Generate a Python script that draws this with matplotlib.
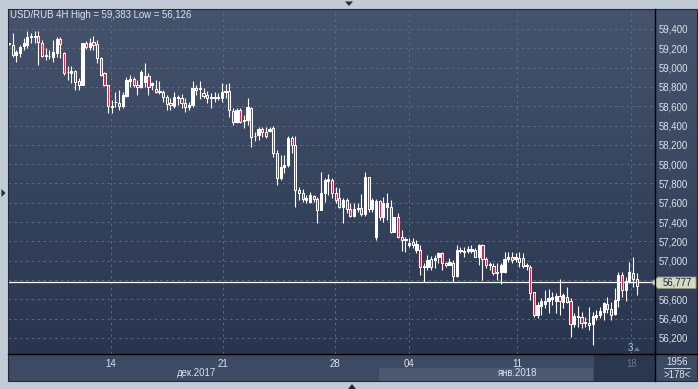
import matplotlib
matplotlib.use('Agg')
import matplotlib.pyplot as plt
import numpy as np
from matplotlib.patches import Rectangle, Polygon
from matplotlib.colors import LinearSegmentedColormap
from matplotlib.lines import Line2D

# ---------------- data (USD/RUB 4H candles) ----------------
opens = [
    59240, 59234, 59131, 59148, 59224, 59234, 59318, 59318, 59330, 59260,
    59121, 59118, 59110, 59150, 59293, 59150, 58950, 58944, 58960, 58862,
    58820, 59252, 59210, 59268, 59241, 59097, 58941, 58820, 58597, 58640,
    58637, 58603, 58706, 58862, 58879, 58820, 58803, 58855, 58913, 58820,
    58778, 58744, 58751, 58699, 58630, 58606, 58682, 58682, 58637, 58596,
    58613, 58786, 58775, 58734, 58713, 58682, 58689, 58690, 58682, 58744,
    58758, 58554, 58440, 58561, 58447, 58458, 58585, 58290, 58300, 58361,
    58330, 58344, 58372, 58113, 57860, 57974,
    57992, 58268, 58199, 57733, 57698, 57629, 57612, 57671, 57640, 57526,
    57698, 57826, 57836, 57705, 57647, 57560, 57629, 57533, 57464, 57536,
    57543, 57481, 57870, 57533, 57249, 57619, 57457, 57560, 57553, 57301,
    57450, 57249, 57215, 57163, 57190,
    57111, 57111, 56938, 56938, 57015, 57008, 57035, 57077, 56980, 56956,
    56980, 56842, 57100, 57094, 57101, 57104, 57111, 57042, 57163, 57015,
    56956, 56945, 56870, 56880, 56887, 57015, 57042, 57015, 57025, 57025,
    56945, 56938, 56680, 56438,
    56531, 56552, 56586, 56600, 56586, 56635, 56576, 56628, 56586, 56342,
    56414, 56420, 56352, 56358, 56342, 56420, 56438, 56472, 56552, 56497,
    56449, 56594, 56852, 56697, 56783, 56870, 56808,
]
highs = [
    59260, 59360, 59183, 59234, 59304, 59375, 59360, 59383, 59375, 59286,
    59200, 59183, 59286, 59322, 59317, 59162, 59013, 59013, 58975, 58892,
    59255, 59275, 59304, 59327, 59286, 59110, 58955, 58820, 58665, 58751,
    58768, 58751, 58906, 58924, 58906, 58872, 58975, 59045, 58944, 58855,
    58872, 58862, 58768, 58716, 58682, 58744, 58716, 58723, 58682, 58647,
    58862, 58820, 58862, 58786, 58758, 58734, 58751, 58734, 58838, 58830,
    58838, 58578, 58578, 58578, 58509, 58682, 58596, 58330, 58389, 58389,
    58389, 58385, 58399, 58147, 58095, 58095,
    58292, 58292, 58292, 57767, 57743, 57681, 57715, 57681, 57663, 57922,
    57854, 57898, 57854, 57767, 57750, 57647, 57647, 57595, 57595, 57595,
    57691, 57922, 57870, 57647, 57636, 57629, 57663, 57698, 57629, 57457,
    57498, 57318, 57243, 57232, 57232,
    57215, 57163, 56973, 57060, 57049, 57060, 57094, 57094, 56990, 57025,
    57008, 57163, 57146, 57146, 57153, 57163, 57129, 57173, 57173, 57042,
    56990, 56973, 56973, 56973, 57087, 57087, 57094, 57077, 57094, 57077,
    56973, 56956, 56680, 56576,
    56611, 56697, 56704, 56680, 56663, 56808, 56663, 56731, 56611, 56456,
    56531, 56472, 56414, 56518, 56472, 56490, 56524, 56576, 56628, 56576,
    56715, 56887, 56887, 56835, 56990, 57042, 56870,
]
lows = [
    59230, 59107, 59062, 59114, 59183, 59200, 59255, 59255, 59027, 59114,
    59079, 59086, 59062, 59114, 59100, 58924, 58872, 58838, 58768, 58768,
    58815, 59190, 59183, 59183, 59045, 58913, 58810, 58527, 58534, 58596,
    58561, 58578, 58699, 58803, 58803, 58716, 58789, 58803, 58716, 58768,
    58734, 58723, 58647, 58561, 58561, 58578, 58613, 58578, 58537, 58561,
    58596, 58716, 58675, 58682, 58630, 58578, 58647, 58665, 58647, 58682,
    58492, 58406, 58423, 58423, 58372, 58406, 58181, 58240, 58250, 58285,
    58268, 58333, 58078, 57784, 57836, 57906,
    57971, 58113, 57560, 57629, 57612, 57601, 57595, 57612, 57388, 57526,
    57612, 57681, 57647, 57595, 57543, 57388, 57491, 57450, 57450, 57508,
    57464, 57464, 57508, 57508, 57215, 57422, 57405, 57422, 57284, 57294,
    57232, 57104, 57094, 57146, 57129,
    57077, 56852, 56783, 56904, 56904, 56922, 56973, 56904, 56938, 56956,
    56783, 56835, 57077, 57042, 57077, 57084, 57035, 56956, 56801, 56922,
    56904, 56852, 56801, 56759, 56870, 56990, 56973, 56990, 56938, 56922,
    56904, 56594, 56420, 56404,
    56438, 56508, 56456, 56542, 56456, 56438, 56508, 56559, 56213, 56317,
    56317, 56300, 56317, 56283, 56126, 56386, 56404, 56386, 56456, 56386,
    56438, 56518, 56628, 56586, 56766, 56731, 56645,
]
closes = [
    59250, 59131, 59160, 59210, 59255, 59314, 59322, 59330, 59270, 59121,
    59125, 59114, 59160, 59293, 59245, 58944, 58954, 58960, 58856, 58820,
    59252, 59210, 59252, 59234, 59097, 58924, 58820, 58603, 58603, 58637,
    58603, 58716, 58872, 58879, 58820, 58803, 58958, 58913, 58803, 58838,
    58744, 58755, 58699, 58620, 58610, 58693, 58696, 58630, 58596, 58613,
    58786, 58768, 58786, 58710, 58682, 58693, 58699, 58693, 58744, 58758,
    58561, 58440, 58561, 58440, 58458, 58596, 58285, 58295, 58361, 58330,
    58295, 58364, 58113, 57860, 57974, 57992,
    58268, 58199, 57733, 57698, 57640, 57653, 57681, 57640, 57526, 57698,
    57833, 57843, 57705, 57629, 57560, 57629, 57533, 57464, 57533, 57547,
    57481, 57870, 57533, 57629, 57619, 57457, 57595, 57595, 57301, 57450,
    57249, 57215, 57225, 57180, 57160,
    57173, 56938, 56945, 57008, 56938, 57025, 57077, 56973, 56956, 56985,
    56842, 57111, 57111, 57101, 57118, 57122, 57042, 57163, 57015, 56956,
    56966, 56870, 56887, 56956, 57015, 57042, 57008, 57042, 56990, 56945,
    56956, 56669, 56438, 56542,
    56586, 56586, 56611, 56620, 56635, 56586, 56645, 56576, 56342, 56428,
    56428, 56358, 56369, 56335, 56428, 56438, 56480, 56559, 56497, 56438,
    56594, 56852, 56697, 56793, 56887, 56808, 56739,
]
current_price = 56777
price_ticks = list(range(56200, 59401, 200))
date_tick_pos = [27.7, 58.2, 88.8, 108.9, 138.5, 169.5]
date_tick_labels = ['14', '21', '28', '04', '11', '18']
month_labels = ['дек.2017', 'янв.2018']
month_pos = [51.0, 138.5]
title = 'USD/RUB 4H High = 59,383 Low = 56,126'

# ---------------- figure ----------------
W, H = 698, 389
fig = plt.figure(figsize=(W / 100, H / 100), dpi=100)
fig.patch.set_facecolor('#c2cbd8')
plt.rcParams['font.family'] = ['Liberation Sans', 'DejaVu Sans']
FS = 6.9

def fx(px):
    return px / W

def fy(py):
    return 1 - py / H

def frect(x0, y0, x1, y1, **kw):
    r = Rectangle((fx(x0), fy(y1)), (x1 - x0) / W, (y1 - y0) / H,
                  transform=fig.transFigure, **kw)
    fig.add_artist(r)
    return r

def fline(x0, y0, x1, y1, **kw):
    fig.add_artist(Line2D([fx(x0), fx(x1)], [fy(y0), fy(y1)],
                          transform=fig.transFigure, **kw))

PL, PT, PR, PB = 8, 9, 655, 354
txt_col = '#dce3ee'
dim_col = '#66758d'

# right price panel gradient
axr = fig.add_axes([fx(PR), fy(PB), (697 - PR) / W, (PB - PT) / H])
axr.axis('off')
cm_r = LinearSegmentedColormap.from_list('r', ['#46546d', '#2e3a54'])
axr.imshow(np.linspace(0, 1, 256).reshape(-1, 1), aspect='auto', cmap=cm_r,
           extent=[0, 1, 0, 1], origin='upper')
axr.set_xlim(0, 1); axr.set_ylim(0, 1)

# main axes
ax = fig.add_axes([fx(PL), fy(PB), (PR - PL) / W, (PB - PT) / H])
cm = LinearSegmentedColormap.from_list('bg', ['#45536d', '#29354f'])
ax.imshow(np.linspace(0, 1, 256).reshape(-1, 1), aspect='auto', cmap=cm,
          extent=[0, 1, 0, 1], origin='upper', transform=ax.transAxes, zorder=0)

n = len(opens)
x = np.arange(n)
ax.set_xlim(-0.27, 176.0)
ax.set_ylim(56034, 59607)

ax.axhline(current_price, color='white', lw=0.9, zorder=2)

o = np.array(opens); h = np.array(highs); l = np.array(lows); c = np.array(closes)
ax.vlines(x, l, h, color='white', lw=0.8, zorder=3)
up = c >= o
body = np.where(np.abs(c - o) < 6, 6, c - o)
ax.bar(x, body, bottom=o, width=0.6,
       color=np.where(up, 'white', '#e0203f'), edgecolor='white',
       linewidth=0.75, zorder=4)

ax.set_yticks(price_ticks)
ax.set_yticklabels(['' if abs(v - current_price) < 60 else f'{v:,}' for v in price_ticks])
ax.yaxis.tick_right()
ax.tick_params(axis='y', length=0, pad=2.5, labelsize=FS, labelcolor=txt_col)
ax.set_xticks(date_tick_pos)
ax.set_xticklabels(date_tick_labels)
ax.tick_params(axis='x', length=0, pad=3.5, labelsize=FS, labelcolor=txt_col)
ax.get_xticklabels()[-1].set_color(dim_col)
ax.grid(True, color='#5b6a84', lw=0.7, ls=(0, (2.5, 3.5)))
for s in ax.spines.values():
    s.set_visible(False)

# month labels
for lab, pos in zip(month_labels, month_pos):
    ax.text(pos, -0.055, lab, transform=ax.get_xaxis_transform(),
            ha='center', va='center', fontsize=FS, color=txt_col)

# bottom strip
frect(PL, PB, PR, 381, facecolor='#3d4a63', edgecolor='none', zorder=-1)
frect(379, 368, 593, 381, facecolor='#4a5872', edgecolor='none', zorder=-1)
frect(594, PB, PR, 381, facecolor='#2b374f', edgecolor='none', zorder=-1)
frect(PR, PB, 697, 381, facecolor='#3d4a63', edgecolor='none', zorder=-1)

# separators
fline(PR, PT, PR, 381, color='black', lw=1.0)
fline(PL, PB, 697, PB, color='black', lw=1.0)
frect(PL, PT, 697, 381, facecolor='none', edgecolor='#222a3a', lw=0.8)

# current price tag
tag = Polygon([[fx(651), fy(282.5)], [fx(658), fy(277)], [fx(696), fy(277)],
               [fx(696), fy(288.5)], [fx(658), fy(288.5)]], closed=True,
              transform=fig.transFigure, facecolor='#d6dac3', edgecolor='#8e957e', lw=0.6)
fig.add_artist(tag)
fig.text(fx(677), fy(282.8), f'{current_price:,}', ha='center', va='center',
         fontsize=FS, color='#1b2540')

# bottom right counters
fig.text(fx(677), fy(362), '1956', ha='center', va='center', fontsize=FS, color=txt_col)
fline(664, 368, 690, 368, color=txt_col, lw=0.6)
fig.text(fx(677), fy(374.5), '>178<', ha='center', va='center', fontsize=FS, color=txt_col)

# marker "3"
fig.text(fx(630), fy(348), '3', ha='center', va='center', fontsize=FS, color='#a9c8e8')
fig.add_artist(Polygon([[fx(634), fy(351)], [fx(640), fy(351)], [fx(637), fy(347)]],
                       transform=fig.transFigure, facecolor='#6b7a90', edgecolor='none'))

# title
fig.text(fx(10), fy(15.5), title, ha='left', va='center', fontsize=FS, color=txt_col)

# frame arrows
fig.add_artist(Polygon([[fx(345), fy(1.5)], [fx(353), fy(1.5)], [fx(349), fy(6)]],
                       transform=fig.transFigure, facecolor='#232c3c', edgecolor='none'))
fig.add_artist(Polygon([[fx(348), fy(389)], [fx(356), fy(389)], [fx(352), fy(384)]],
                       transform=fig.transFigure, facecolor='#232c3c', edgecolor='none'))
fig.add_artist(Polygon([[fx(1.5), fy(189)], [fx(1.5), fy(197)], [fx(5.5), fy(193)]],
                       transform=fig.transFigure, facecolor='#232c3c', edgecolor='none'))

fig.savefig('out.png', dpi=100, facecolor=fig.get_facecolor())
